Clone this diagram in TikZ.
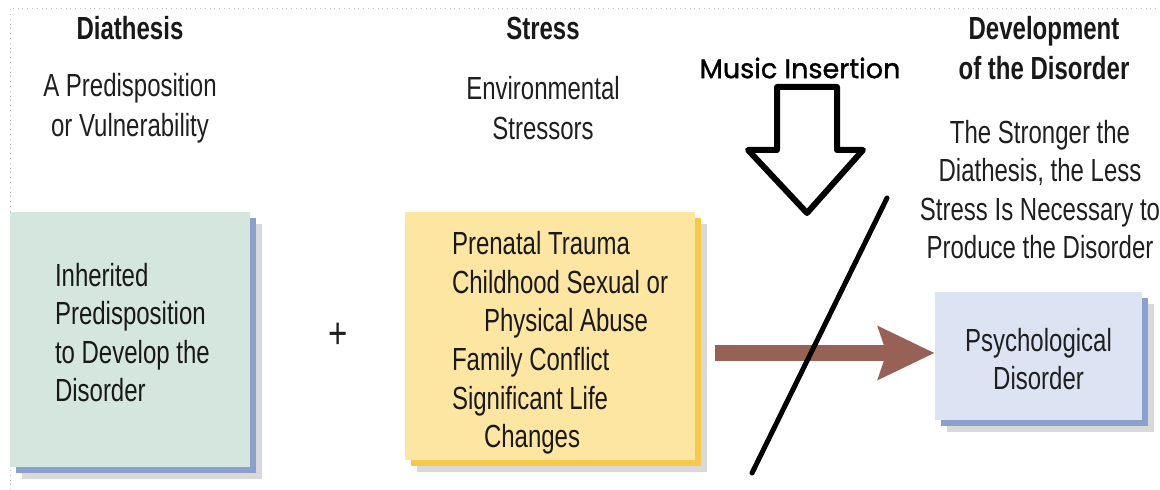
\documentclass[tikz,border=0pt]{standalone}
\usepackage{fontspec}
\setmainfont{Liberation Sans}[FakeStretch=0.75]
\newfontfamily\musicfont{Poppins}[FakeBold=1.2]
\usepackage{tikz}
\usetikzlibrary{arrows.meta,positioning,shadows}

\definecolor{diaface}{RGB}{213,230,222}
\definecolor{strface}{RGB}{253,229,162}
\definecolor{disface}{RGB}{220,228,243}
\definecolor{edgeblue}{RGB}{140,160,206}
\definecolor{edgegold}{RGB}{246,202,72}
\definecolor{flowbrown}{RGB}{152,97,86}

\begin{document}
\begin{tikzpicture}[
  x=0.5pt, y=-0.5pt,
  ttl/.style={font=\fontsize{16}{20}\selectfont\bfseries, align=center, text=black!90},
  sub/.style={font=\fontsize{16}{20}\selectfont, align=center, text=black!88},
  txt/.style={font=\fontsize{16}{19.3}\selectfont, align=left, text=black!90, inner sep=0pt},
  box/.style={inner sep=0pt, draw=none,
              drop shadow={shadow xshift=6pt, shadow yshift=-6pt, opacity=0.25, fill=black!60},
              general shadow={shadow xshift=3pt, shadow yshift=-3pt, fill=#1}},
  flow/.style={draw=flowbrown, line width=8pt,
               -{Stealth[length=28pt, width=26pt, inset=4pt, fill=flowbrown]}},
  hollow/.style={draw=black, line width=3pt, line join=round},
  slash/.style={draw=black, line width=2.5pt, line cap=round}
]
\useasboundingbox (0,0) rectangle (1160,490);

% --- faint frame ---
\draw[black!25, dotted] (10,490) -- (10,8) -- (1160,8);

% --- Column heads ---
\node[ttl] (hdia) at (130,28) {Diathesis};
\node[sub] (sdia) at (130,108) {A Predisposition\\or Vulnerability};
\node[ttl] (hstr) at (543,28) {Stress};
\node[sub] (sstr) at (543,108) {Environmental\\Stressors};
\node[ttl] (hdev) at (1044,48) {Development\\of the Disorder};
\node[sub, font=\fontsize{16}{19.3}\selectfont] (sdev) at (1040,189.5)
  {The Stronger the\\Diathesis, the Less\\Stress Is Necessary to\\Produce the Disorder};

% --- Boxes ---
\node[box=edgeblue, fill=diaface, minimum width=120pt, minimum height=127.5pt]
  (dia) at (130,339.5) {};
\node[box=edgegold, fill=strface, minimum width=145pt, minimum height=124pt]
  (str) at (550,336) {};
\node[box=edgeblue, fill=disface, minimum width=103.5pt, minimum height=64pt]
  (dis) at (1038.5,356) {};

% --- Box texts ---
\node[txt, anchor=west] (tdia) at ([xshift=22.5pt, yshift=3.5pt]dia.west)
  {Inherited\\Predisposition\\to Develop the\\Disorder};
\node[txt, anchor=west] (tstr) at ([xshift=23.5pt, yshift=-3.5pt]str.west)
  {Prenatal Trauma\\Childhood Sexual or\\\hspace*{16pt}Physical Abuse\\Family Conflict\\Significant Life\\\hspace*{16pt}Changes};
\node[sub, font=\fontsize{16}{19}\selectfont] (tdis) at ([yshift=-1.5pt]dis.center)
  {Psychological\\Disorder};

\node[sub, font=\fontsize{22}{24}\selectfont] (plus) at (338,336) {+};

% --- Flow to the disorder ---
\draw[flow, shorten <=10pt] (str.east |- dis.west) ++(0,-3) -- ([yshift=1.5pt]dis.west);

% --- Music insertion ---
\node[font=\musicfont\fontsize{13.5}{16}\selectfont] (mus) at (800,68) {Music Insertion};
\draw[hollow] (777,87) -- (837,87) -- (837,150) -- (863,150) -- (807,213)
  -- (748,150) -- (777,150) -- cycle;
\draw[slash] (887,198) -- (752,473);
\end{tikzpicture}
\end{document}
